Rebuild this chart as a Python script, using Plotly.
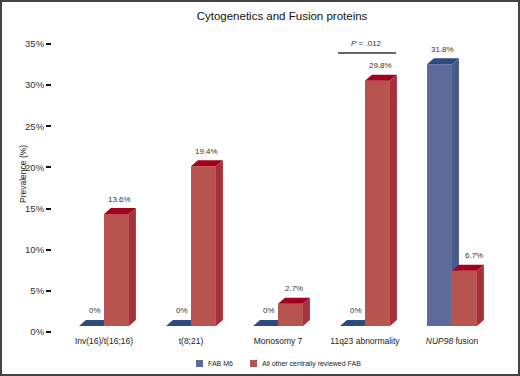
import plotly.graph_objects as go

categories = ["Inv(16)/t(16;16)", "t(8;21)", "Monosomy 7", "11q23 abnormality", "<i>NUP98</i> fusion"]
fab_m6 = [0, 0, 0, 0, 31.8]
other_fab = [13.6, 19.4, 2.7, 29.8, 6.7]
y_ticks = [0, 5, 10, 15, 20, 25, 30, 35]
series_names = ["FAB M6", "All other centrally reviewed FAB"]
p_text = "<i>P</i> = .012"

W = 0.287      # bar width (category units)
DX = 0.08      # depth offset x (category units)
DY = 0.73      # depth offset y (%)
B = DY         # bar base

FONT = "Liberation Sans, Arial, Helvetica, sans-serif"

series = [
    dict(name=series_names[0], vals=fab_m6, off=-W, front="#5C6B99", top="#2E4B80", side="#475A8A", z=0),
    dict(name=series_names[1], vals=other_fab, off=0.0, front="#B8544F", top="#A3001E", side="#A6303A", z=2),
]

fig = go.Figure()
xs = list(range(len(categories)))

for si, s in enumerate(series):
    fig.add_trace(go.Bar(
        x=xs, y=s["vals"], base=[B] * len(xs), width=W, offset=s["off"],
        name=s["name"], marker=dict(color=s["front"], line=dict(width=0)),
        zorder=s["z"], hoverinfo="skip", showlegend=False,
    ))
    tx, ty, sx, sy = [], [], [], []
    for i, v in enumerate(s["vals"]):
        x0 = i + s["off"]
        x1 = x0 + W
        t = B + v
        bottom = B
        if si == 0:
            other = series[1]["vals"][i]
            if other > 0 and other + B >= t:
                tx += [x0, x1, x1, x0 + DX, x0, None]
                ty += [t, t, t + DY, t + DY, t, None]
                continue
            if other > 0:
                bottom = B + other
                sx += [x1, x1, x1 + DX, x1 + DX, x1, None]
                sy += [bottom, t, t + DY, bottom, bottom, None]
                tx += [x0, x1, x1 + DX, x0 + DX, x0, None]
                ty += [t, t, t + DY, t + DY, t, None]
                continue
        tx += [x0, x1, x1 + DX, x0 + DX, x0, None]
        ty += [t, t, t + DY, t + DY, t, None]
        sx += [x1, x1, x1 + DX, x1 + DX, x1, None]
        sy += [bottom, t, t + DY, bottom + DY, bottom, None]
    fig.add_trace(go.Scatter(x=tx, y=ty, fill="toself", fillcolor=s["top"], mode="lines",
                             line=dict(width=0, color=s["top"]), showlegend=False,
                             hoverinfo="skip", zorder=s["z"] + 1))
    if sx:
        fig.add_trace(go.Scatter(x=sx, y=sy, fill="toself", fillcolor=s["side"], mode="lines",
                                 line=dict(width=0, color=s["side"]), showlegend=False,
                                 hoverinfo="skip", zorder=s["z"] + 1))
    for i, v in enumerate(s["vals"]):
        shift = 0
        if si == 1 and series[0]["vals"][i] > v:
            shift = 6
        fig.add_annotation(x=i + s["off"] + W / 2 + DX / 2, y=B + v, yshift=15, xshift=shift,
                           text=f"{v:g}%", showarrow=False,
                           font=dict(size=8, color="#333333", family=FONT))

# P value annotation over 11q23
fig.add_shape(type="line", xref="x", yref="y", x0=2.69, x1=3.356, y0=33.9, y1=33.9,
              line=dict(color="#333333", width=1.5))
fig.add_annotation(x=3.02, y=35.1, text=p_text, showarrow=False,
                   font=dict(size=8, color="#333333", family=FONT))

ML, MR, MT, MB = 53, 10, 27, 44
PW, PH = 520 - ML - MR, 376 - MT - MB

def px_x(px):
    return (px - ML) / PW

def px_y(py):
    return (376 - MB - py) / PH

# outer frame
fig.add_shape(type="rect", xref="paper", yref="paper",
              x0=px_x(1), x1=px_x(519), y0=px_y(375), y1=px_y(1),
              line=dict(color="#444444", width=2), layer="above")

# manual legend
leg = [(196, 206, series[0]["front"], series[0]["name"]),
       (250, 260, series[1]["front"], series[1]["name"])]
for sq_x, tx_x, col, name in leg:
    fig.add_shape(type="rect", xref="paper", yref="paper",
                  x0=px_x(sq_x), x1=px_x(sq_x + 7), y0=px_y(367), y1=px_y(360),
                  fillcolor=col, line=dict(width=0))
    fig.add_annotation(xref="paper", yref="paper", x=px_x(tx_x), y=px_y(363.5),
                       xanchor="left", yanchor="middle", text=name, showarrow=False,
                       font=dict(size=7, color="#222222", family=FONT))

# y-axis title
fig.add_annotation(xref="paper", yref="paper", x=px_x(16), y=px_y(174),
                   text="Prevalence (%)", textangle=-90, showarrow=False,
                   font=dict(size=8.5, color="#222222",
                             family="Liberation Sans Narrow, Arial Narrow, sans-serif"))

fig.update_layout(
    width=520, height=376,
    margin=dict(l=ML, r=MR, t=MT, b=MB, autoexpand=False),
    paper_bgcolor="white", plot_bgcolor="white",
    barmode="overlay", showlegend=False,
    font=dict(family=FONT, color="#222222"),
    title=dict(text="Cytogenetics and Fusion proteins", x=282 / 520, xref="container",
               xanchor="center", y=1 - 16 / 376, yanchor="middle",
               font=dict(size=11.5, color="#111111", family=FONT)),
    xaxis=dict(range=[-0.586, 4.667], tickmode="array", tickvals=xs, ticktext=categories,
               showline=True, linecolor="#111111", linewidth=2, ticks="", showgrid=False,
               zeroline=False, tickfont=dict(size=8.5, color="#222222", family=FONT)),
    yaxis=dict(range=[0, 37.06], tickmode="array", tickvals=y_ticks,
               ticktext=[f"{t}%" for t in y_ticks],
               showline=True, linecolor="#111111", linewidth=2, ticks="outside", ticklen=5,
               tickwidth=1.5, tickcolor="#111111", showgrid=False, zeroline=False,
               tickfont=dict(size=9.5, color="#333333", family=FONT)),
)

fig.write_html("out.html", config={"displayModeBar": False},
               post_script="document.body.style.margin='0';document.body.style.overflow='hidden';")
